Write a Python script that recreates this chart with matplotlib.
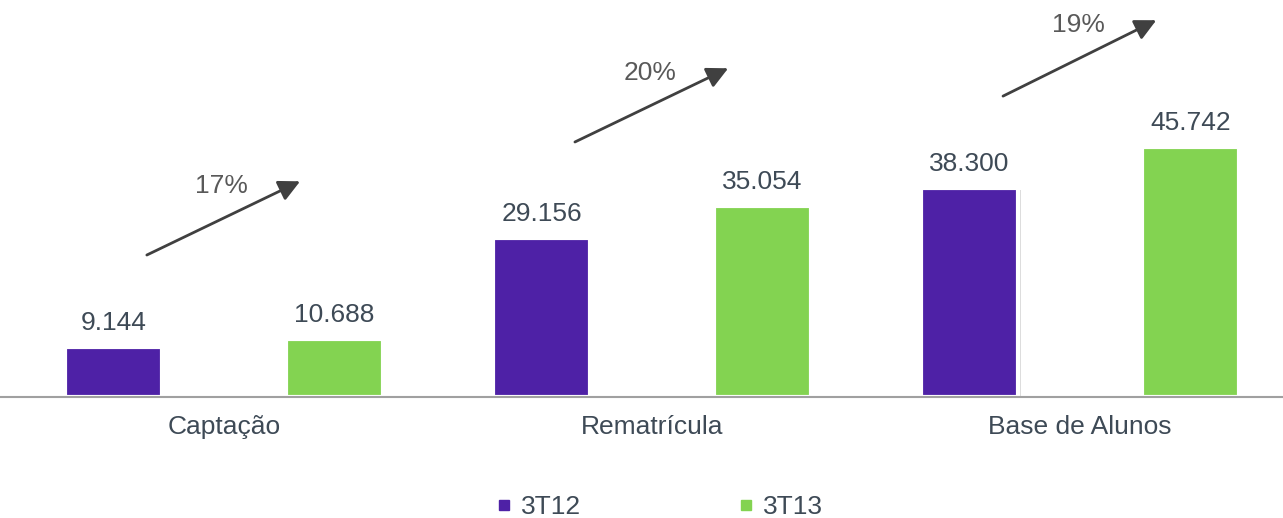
import matplotlib
matplotlib.use("Agg")
import matplotlib.pyplot as plt
import matplotlib.patheffects as pe
from matplotlib.lines import Line2D
import numpy as np

# data
categories = ["Captação", "Rematrícula", "Base de Alunos"]
series_names = ["3T12", "3T13"]
vals_3t12 = [9144, 29156, 38300]
vals_3t13 = [10688, 35054, 45742]
growth = ["17%", "20%", "19%"]
# arrow annotation heights (thousands), start / end
arrow_y0 = [26.0, 46.7, 55.1]
arrow_y1 = [39.5, 60.2, 69.0]

purple = "#4e21a6"
green = "#83d351"
txt_col = "#3e4a56"
pct_col = "#595959"

plt.rcParams["font.family"] = ["Liberation Sans", "DejaVu Sans"]

fig = plt.figure(figsize=(12.83, 5.18), dpi=100)
ax = fig.add_axes([0, 0.2336, 1, 0.759])

x = np.arange(len(categories))
w = 0.228
off = 0.258
shadow = [pe.withSimplePatchShadow(offset=(1.5, -1.5), shadow_rgbFace="#888888", alpha=0.3)]

fmt = lambda v: f"{v:,}".replace(",", ".")
for vals, dx, col in [(vals_3t12, -off, purple), (vals_3t13, off, green)]:
    h = np.array(vals) / 1000
    ax.bar(x + dx, h, width=w, color=col, edgecolor="white", linewidth=3,
           path_effects=shadow, zorder=2)
    for xi, hi, v in zip(x + dx, h, vals):
        ax.text(xi, hi + 2.2, fmt(v), ha="center", va="bottom", fontsize=19, color=txt_col)

for i in range(len(categories)):
    ax.annotate("", xy=(i + 0.178, arrow_y1[i]), xytext=(i - 0.18, arrow_y0[i]),
                arrowprops=dict(arrowstyle="-|>", color="#404040", lw=2,
                                mutation_scale=32, shrinkA=0, shrinkB=0))
    ax.text(i - 0.005, arrow_y1[i] - 0.9, growth[i], ha="center", va="center",
            fontsize=19, color=pct_col)

ax.set_xlim(-0.523, 2.474)
ax.set_ylim(0, 72)
ax.set_xticks(x)
ax.set_xticklabels(categories, fontsize=19, color=txt_col)
ax.tick_params(axis="x", length=0, pad=13)
ax.set_yticks([])
for s in ["top", "right", "left"]:
    ax.spines[s].set_visible(False)
ax.spines["bottom"].set_color("#a0a0a0")
ax.spines["bottom"].set_linewidth(1.5)

handles = [Line2D([], [], marker="s", linestyle="", color=purple, markersize=7),
           Line2D([], [], marker="s", linestyle="", color=green, markersize=7)]
leg = fig.legend(handles, series_names, loc="center", bbox_to_anchor=(660 / 1283, 1 - 507 / 518),
                 ncol=2, frameon=False, fontsize=19, handlelength=0.5, handletextpad=0.4,
                 columnspacing=6.0)
for t in leg.get_texts():
    t.set_color(txt_col)

fig.savefig("out.png", dpi=100)
plt.close()
